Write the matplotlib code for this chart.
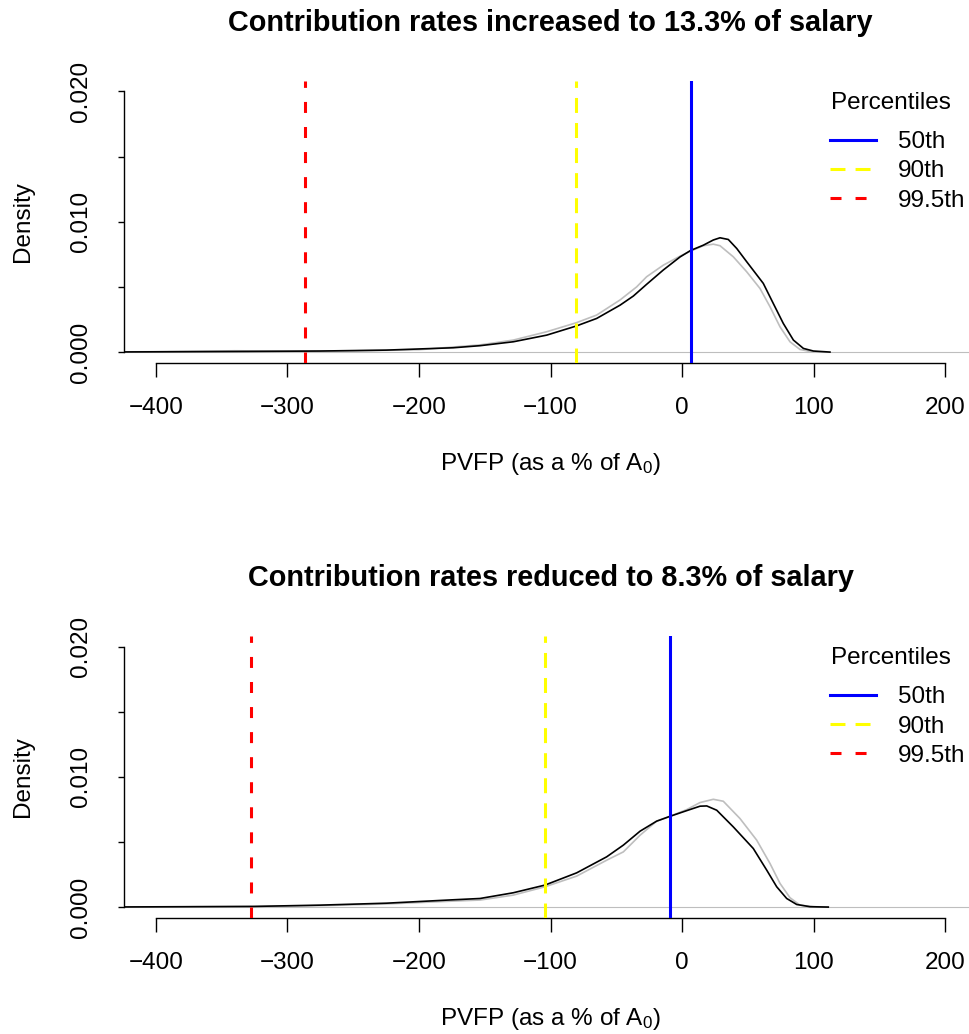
import numpy as np
import matplotlib
matplotlib.use("Agg")
import matplotlib.pyplot as plt
from matplotlib.lines import Line2D

plt.rcParams['font.family'] = ['Liberation Sans', 'DejaVu Sans']
plt.rcParams['mathtext.fontset'] = 'custom'
plt.rcParams['mathtext.rm'] = 'Liberation Sans'
plt.rcParams['mathtext.it'] = 'Liberation Sans:italic'

# data
titles = ["Contribution rates increased to 13.3% of salary",
          "Contribution rates reduced to 8.3% of salary"]

top_x_black = [-450, -400, -330, -275, -225, -174, -153.6, -128.3, -102.9, -80.4, -64.9, -47.1,
               -37.0, -26.9, -14.2, -1.5, 6.6, 16.2, 23.8, 28.9, 35.2, 41.6, 49.2, 61.8, 69.4,
               77.0, 84.7, 92.3, 99.9, 112.5]
top_y_black = [0, 0.00002, 0.00005, 0.00008, 0.00015, 0.00033, 0.00049, 0.00079, 0.0013, 0.0020,
               0.00258, 0.0036, 0.0043, 0.0052, 0.0063, 0.0073, 0.0078, 0.0082, 0.0086, 0.00877,
               0.00864, 0.00795, 0.00693, 0.00527, 0.00373, 0.0022, 0.00092, 0.00028, 0.00008, 0]
top_x_grey = [-450, -400, -340, -300, -250, -200, -153.6, -128.3, -102.9, -80.4, -64.9, -47.1,
              -34.5, -26.9, -14.2, -1.5, 6.6, 16.2, 23.8, 28.9, 39.0, 49.2, 59.3, 66.9, 74.5,
              82.1, 89.7, 99.9]
top_y_grey = [0, 0.00003, 0.0001, 0.00007, 0.00009, 0.00018, 0.00055, 0.00092, 0.00156, 0.00225,
              0.00284, 0.0040, 0.0050, 0.00578, 0.00667, 0.00736, 0.00775, 0.00816, 0.00828,
              0.00816, 0.00731, 0.00616, 0.00488, 0.00348, 0.00194, 0.00079, 0.0002, 0]

bot_x_black = [-450, -400, -326, -275, -224.6, -174, -153.6, -128.3, -104.2, -80.1, -57.3, -44.6,
               -31.9, -19.3, -8.9, 3.6, 13.7, 18.8, 26.4, 39.0, 54.2, 64.4, 72.0, 79.6, 87.2,
               97.3, 111.2]
bot_y_black = [0, 0.00002, 0.00005, 0.00015, 0.0003, 0.00056, 0.00066, 0.0011, 0.00169, 0.00263,
               0.00386, 0.00476, 0.00583, 0.0066, 0.00698, 0.00741, 0.00775, 0.00777, 0.00744,
               0.00616, 0.0045, 0.00284, 0.00156, 0.00066, 0.0002, 0.00003, 0]
bot_x_grey = [-450, -400, -326, -275, -224.6, -174, -153.6, -128.3, -104.2, -80.1, -57.3, -44.6,
              -31.9, -19.3, -8.9, 3.6, 13.7, 23.8, 31.4, 44.1, 56.8, 66.9, 74.5, 82.1, 89.7,
              99.9, 111.2]
bot_y_grey = [0, 0.00001, 0.00004, 0.00011, 0.00024, 0.00046, 0.00054, 0.00092, 0.00156, 0.00238,
              0.0036, 0.00424, 0.00552, 0.0066, 0.00698, 0.00749, 0.00803, 0.00828, 0.00813,
              0.0068, 0.00514, 0.00335, 0.00182, 0.00072, 0.00015, 0.00003, 0]

# percentiles: 50th, 90th, 99.5th
top_pct = [6.6, -80.4, -287]
bot_pct = [-8.9, -104.2, -327.5]
pct_labels = ["50th", "90th", "99.5th"]
pct_colors = ["#0000FF", "#FFFF00", "#FF0000"]
pct_dashes = [None, (4.9, 3.3), (3.6, 4.6)]

xticks = [-400, -300, -200, -100, 0, 100, 200]
yticks = [0.0, 0.005, 0.010, 0.015, 0.020]
ylabels = ["0.000", "", "0.010", "", "0.020"]

W, H = 970, 1034
fig = plt.figure(figsize=(W / 100, H / 100), dpi=100)

panels = [
    (titles[0], top_x_black, top_y_black, top_x_grey, top_y_grey, top_pct, (81, 362.5)),
    (titles[1], bot_x_black, bot_y_black, bot_x_grey, bot_y_grey, bot_pct, (636.3, 917.5)),
]

fs = 17.5
lw = 2.2
x0, x1 = 124.4, 976.6
for title, xb, yb, xg, yg, pct, (ptop, pbot) in panels:
    ax = fig.add_axes([x0 / W, 1 - pbot / H, (x1 - x0) / W, (pbot - ptop) / H])
    ax.set_xlim(-424, 224)
    ax.set_ylim(-0.0008, 0.0208)
    ax.axhline(0, color="#BEBEBE", lw=0.8, zorder=1)
    ax.plot(xg, yg, color="#BEBEBE", lw=1.2, zorder=2)
    ax.plot(xb, yb, color="black", lw=1.2, zorder=3)
    for v, c, d in zip(pct, pct_colors, pct_dashes):
        ln = ax.axvline(v, color=c, lw=lw, zorder=4)
        if d is not None:
            ln.set_dashes(d)

    for s in ["top", "right"]:
        ax.spines[s].set_visible(False)
    ax.spines["left"].set_bounds(0, 0.02)
    ax.spines["bottom"].set_bounds(-400, 200)
    ax.spines["left"].set_linewidth(1.0)
    ax.spines["bottom"].set_linewidth(1.0)
    ax.set_xticks(xticks)
    ax.set_xticklabels(["\u2212" + str(-t) if t < 0 else str(t) for t in xticks], fontsize=fs)
    ax.set_yticks(yticks)
    ax.set_yticklabels(ylabels, fontsize=fs, rotation=90, va="center")
    ax.tick_params(axis="x", length=10, width=1.0, pad=15)
    ax.tick_params(axis="y", length=4.5, width=1.0, pad=19)
    ax.set_title(title, fontsize=20.8, fontweight="bold", pad=36)
    ax.set_xlabel(r"PVFP (as a % of A$_0$)", fontsize=fs, labelpad=23)
    ax.set_ylabel("Density", fontsize=fs, labelpad=26)

    handles = []
    for lab, c, d in zip(pct_labels, pct_colors, pct_dashes):
        h = Line2D([], [], color=c, lw=lw, label=lab)
        if d is not None:
            h.set_dashes(d)
        handles.append(h)
    ax.legend(handles=handles, frameon=False, fontsize=fs, loc="upper left",
              bbox_to_anchor=(830 / W, 1 - (ptop + 50) / H),
              bbox_transform=fig.transFigure,
              handlelength=1.9, handletextpad=0.9, labelspacing=0.3,
              borderpad=0, borderaxespad=0)
    fig.text(891 / W, 1 - (ptop + 22) / H, "Percentiles", fontsize=fs,
             ha="center", va="center")

fig.savefig("out.png", dpi=100)
